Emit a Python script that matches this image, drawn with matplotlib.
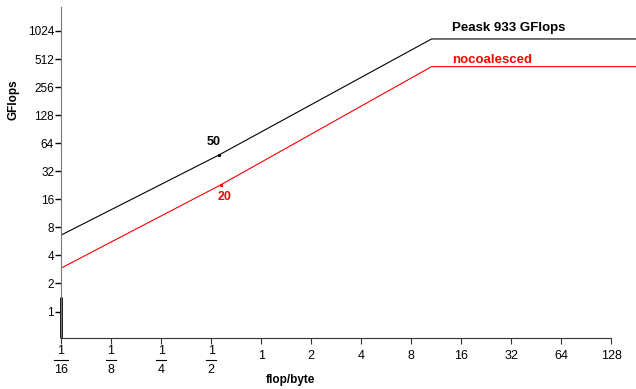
import matplotlib.pyplot as plt

plt.rcParams['font.family'] = ['Liberation Sans', 'DejaVu Sans']

# roofline values
x_ticks = [1/16, 1/8, 1/4, 1/2, 1, 2, 4, 8, 16, 32, 64, 128]
x_labels = [('1', '16'), ('1', '8'), ('1', '4'), ('1', '2'), '1', '2', '4', '8', '16', '32', '64', '128']
y_ticks = [1, 2, 4, 8, 16, 32, 64, 128, 256, 512, 1024]

peak_x = [1/16, 0.56, 10.6, 180]
peak_y = [6.6, 48, 840, 840]
nocoal_x = [1/16, 0.57, 10.6, 180]
nocoal_y = [2.92, 22.8, 424, 424]

fig = plt.figure(figsize=(6.36, 3.89), dpi=100)
ax = fig.add_axes([61/636, 51/389, 575/636, 331/389])

ax.plot(peak_x, peak_y, color='black', lw=0.8, marker='s', ms=1.2, markevery=[1])
ax.plot(nocoal_x, nocoal_y, color='red', lw=0.8, marker='s', ms=1.2, markevery=[1])

ax.set_xscale('log', base=2)
ax.set_yscale('log', base=2)
ax.set_xlim(1/16, 180)
ax.set_ylim(0.52, 1850)

for s in ['top', 'right']:
    ax.spines[s].set_visible(False)
ax.spines['left'].set_color('#777777')
ax.spines['left'].set_linewidth(0.8)
ax.spines['bottom'].set_color('#333333')
ax.spines['bottom'].set_linewidth(0.8)
ax.spines['bottom'].set_bounds(1/16, 128)
ax.plot([1/16, 1/16], [0.52, 1.43], color='black', lw=2, clip_on=False, solid_capstyle='butt')

ax.set_yticks(y_ticks)
ax.set_yticklabels([str(v) for v in y_ticks], fontsize=8.5)
ax.yaxis.set_minor_locator(plt.NullLocator())
ax.xaxis.set_minor_locator(plt.NullLocator())
ax.tick_params(axis='y', length=4, width=1, color='black', pad=1)
ax.set_xticks(x_ticks)
ax.set_xticklabels([''] * len(x_ticks))
ax.tick_params(axis='x', length=4, width=0.8, color='#333333')

tr = ax.get_xaxis_transform()
for xv, lab in zip(x_ticks, x_labels):
    if isinstance(lab, tuple):
        ax.text(xv, -0.039, lab[0], transform=tr, ha='center', va='center', fontsize=9)
        ax.text(xv, -0.097, lab[1], transform=tr, ha='center', va='center', fontsize=9)
        f = 1.1 if len(lab[1]) > 1 else 1.075
        ax.plot([xv / f, xv * f], [-0.066, -0.066], transform=tr, color='black',
                lw=0.8, clip_on=False)
    else:
        ax.text(xv, -0.054, lab, transform=tr, ha='center', va='center', fontsize=9)

ax.text(14.1, 1100, 'Peask 933 GFlops', color='black', fontsize=9.5, fontweight='bold', va='center')
ax.text(14.1, 505, 'nocoalesced', color='red', fontsize=9.5, fontweight='bold', va='center')
ax.text(0.52, 66, '50', color='black', fontsize=9, fontweight='bold', ha='center', va='center')
ax.text(0.6, 16.8, '20', color='red', fontsize=9, fontweight='bold', ha='center', va='center')

fig.text(290/636, 1 - 380/389, 'flop/byte', fontsize=8.5, fontweight='bold', ha='center', va='center')
fig.text(14/636, 1 - 100/389, 'GFlops', fontsize=8.5, fontweight='bold', ha='center', va='center',
         rotation=90)

fig.savefig('out.png', dpi=100)
